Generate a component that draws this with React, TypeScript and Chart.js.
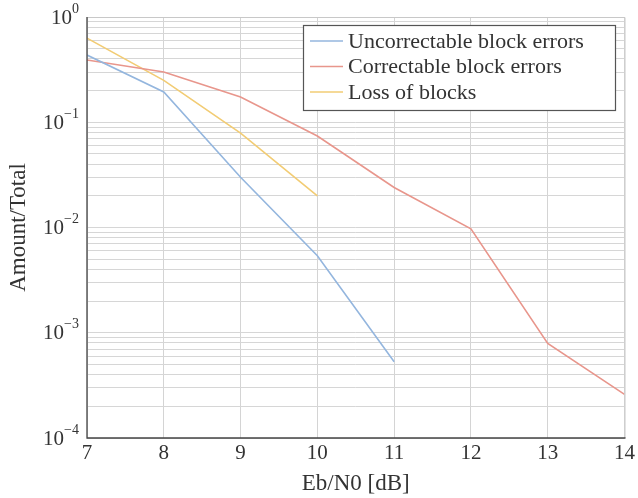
import React, { useEffect, useRef } from "react";
import { Chart, registerables } from "chart.js";

Chart.register(...registerables);

const ebN0 = [7, 8, 9, 10, 11, 12, 13, 14];
const uncorrectable = [0.435, 0.194, 0.03, 0.0054, 0.00053];
const correctable = [0.39, 0.3, 0.174, 0.074, 0.024, 0.0097, 0.00079, 0.00026];
const lossOfBlocks = [0.63, 0.25, 0.079, 0.02];
const seriesLabels = ["Uncorrectable block errors", "Correctable block errors", "Loss of blocks"];
const seriesColors = ["#94b6de", "#e8968c", "#f2cc74"];
const decadeExponents = [0, -1, -2, -3, -4];

const SERIF = "'Liberation Serif', 'DejaVu Serif', serif";

const legendPlugin = {
  id: "insideLegend",
  afterDraw(chart: any) {
    const ctx = chart.ctx;
    const x0 = 303, y0 = 25, w = 312, h = 85;
    ctx.save();
    ctx.fillStyle = "#ffffff";
    ctx.fillRect(x0, y0, w, h);
    ctx.strokeStyle = "#555555";
    ctx.lineWidth = 1.2;
    ctx.strokeRect(x0 + 0.5, y0 + 0.5, w, h);
    ctx.font = `22px ${SERIF}`;
    ctx.textBaseline = "middle";
    chart.data.datasets.forEach((ds: any, i: number) => {
      const yy = y0 + 16 + i * 25.5;
      ctx.strokeStyle = ds.borderColor;
      ctx.lineWidth = 1.5;
      ctx.beginPath();
      ctx.moveTo(x0 + 7, yy);
      ctx.lineTo(x0 + 40, yy);
      ctx.stroke();
      ctx.fillStyle = "#333333";
      ctx.fillText(ds.label, x0 + 45, yy + 1);
    });
    ctx.restore();
  },
};

const yLabelPlugin = {
  id: "yDecadeLabels",
  afterDraw(chart: any) {
    const ctx = chart.ctx;
    const scale = chart.scales.y;
    ctx.save();
    ctx.fillStyle = "#333333";
    ctx.textBaseline = "middle";
    decadeExponents.forEach((e) => {
      const y = scale.getPixelForValue(Math.pow(10, e));
      const exp = e === 0 ? "0" : "\u2212" + String(-e);
      ctx.font = `14px ${SERIF}`;
      const ew = ctx.measureText(exp).width;
      const right = 79;
      ctx.textAlign = "left";
      ctx.fillText(exp, right - ew, y - 8);
      ctx.font = `21px ${SERIF}`;
      ctx.textAlign = "right";
      ctx.fillText("10", right - ew, y + 1);
    });
    ctx.restore();
  },
};

const framePlugin = {
  id: "frame",
  afterDatasetsDraw(chart: any) {
    const { ctx, chartArea: a } = chart;
    ctx.save();
    ctx.strokeStyle = "#c8c8c8";
    ctx.lineWidth = 1;
    ctx.beginPath();
    ctx.moveTo(a.left, a.top + 0.5);
    ctx.lineTo(a.right + 0.5, a.top + 0.5);
    ctx.lineTo(a.right + 0.5, a.bottom);
    ctx.stroke();
    ctx.strokeStyle = "#444444";
    ctx.lineWidth = 1.3;
    ctx.beginPath();
    ctx.moveTo(a.left, a.top);
    ctx.lineTo(a.left, a.bottom);
    ctx.lineTo(a.right + 1, a.bottom);
    ctx.stroke();
    ctx.restore();
  },
};

export default function App() {
  const ref = useRef<HTMLCanvasElement>(null);
  useEffect(() => {
    if (!ref.current) return;
    const mk = (vals: number[]) => vals.map((v, i) => ({ x: ebN0[i], y: v }));
    const chart = new Chart(ref.current, {
      type: "line",
      data: {
        datasets: [uncorrectable, correctable, lossOfBlocks].map((vals, i) => ({
          label: seriesLabels[i],
          data: mk(vals),
          borderColor: seriesColors[i],
          backgroundColor: seriesColors[i],
          borderWidth: 1.6,
          pointRadius: 0,
          tension: 0,
        })),
      },
      options: {
        animation: false,
        responsive: false,
        maintainAspectRatio: false,
        layout: { padding: { left: 0, right: 13, top: 17, bottom: 0 } },
        plugins: { legend: { display: false }, tooltip: { enabled: false } },
        scales: {
          x: {
            type: "linear",
            min: 7,
            max: 14,
            afterBuildTicks: (axis: any) => {
              axis.ticks = ebN0.map((v) => ({ value: v }));
            },
            afterFit: (axis: any) => {
              axis.height = 60;
            },
            ticks: {
              font: { family: SERIF, size: 21 },
              color: "#333333",
              padding: 3,
              callback: (v: any) => String(v),
            },
            grid: { color: "#d4d4d4", lineWidth: 1, drawTicks: false },
            border: { display: false },
            title: {
              display: true,
              text: "Eb/N0 [dB]",
              font: { family: SERIF, size: 23 },
              color: "#333333",
              padding: { top: 4, bottom: 0 },
            },
          },
          y: {
            type: "logarithmic",
            min: 1e-4,
            max: 1,
            afterBuildTicks: (axis: any) => {
              const t: any[] = [];
              for (let e = -4; e <= 0; e++) {
                for (let m = 1; m <= 9; m++) {
                  const v = m * Math.pow(10, e);
                  if (v <= 1.0000001) t.push({ value: v, major: m === 1 });
                  if (e === 0) break;
                }
              }
              axis.ticks = t;
            },
            afterFit: (axis: any) => {
              axis.width = 87;
            },
            ticks: {
              autoSkip: false,
              display: false,
            },
            grid: {
              color: "#d6d6d6",
              lineWidth: 1,
              drawTicks: false,
            },
            border: { display: false },
            title: {
              display: true,
              text: "Amount/Total",
              font: { family: SERIF, size: 23 },
              color: "#333333",
              padding: { top: 5, bottom: 2 },
            },
          },
        },
      },
      plugins: [framePlugin, yLabelPlugin, legendPlugin],
    } as any);
    return () => chart.destroy();
  }, []);
  return (
    <div style={{ position: "fixed", left: 0, top: 0, width: 638, height: 498, background: "#fff" }}>
      <canvas ref={ref} width={638} height={498} style={{ width: 638, height: 498 }} />
    </div>
  );
}
